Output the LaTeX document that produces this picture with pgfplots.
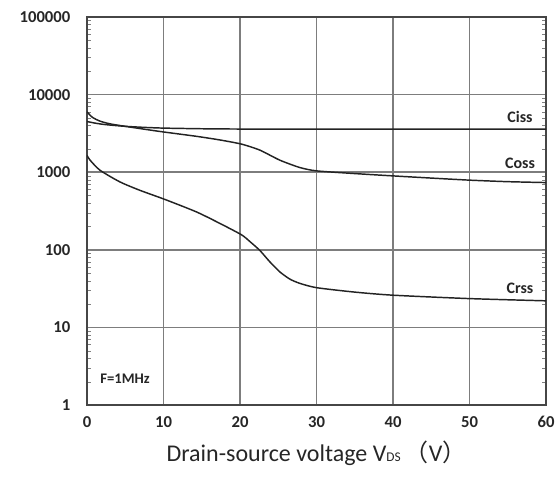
\documentclass[border=0pt]{standalone}
\usepackage{pgfplots}
\pgfplotsset{compat=1.18}
\usepackage{fontspec}
\setmainfont{Carlito}
\newfontfamily\cjk{Noto Sans CJK SC}
\definecolor{gridc}{RGB}{125,125,125}
\definecolor{framec}{RGB}{70,70,70}
\definecolor{curvec}{RGB}{35,35,35}
\begin{document}
\begin{tikzpicture}
\path[use as bounding box] (-65.25pt,-57pt) rectangle (352.5pt,303.75pt);
\begin{axis}[
  scale only axis,
  width=344.25pt, height=291pt,
  ymode=log,
  xmin=0, xmax=60, ymin=1, ymax=100000,
  xtick={0,10,20,30,40,50,60},
  ytick={1,10,100,1000,10000,100000},
  yticklabels={1,10,100,1000,10000,100000},
  minor ytick={},
  major tick length=0pt,
  grid=major,
  major grid style={color=gridc, line width=1.1pt},
  axis line style={color=framec, line width=1.6pt},
  every axis plot/.append style={line width=1.1pt, color=curvec},
  tick label style={font=\fontsize{12.5}{14}\selectfont\bfseries, color=black!85},
  /pgf/number format/assume math mode=true,
  xticklabel style={yshift=-5pt},
  yticklabel style={xshift=-9pt},
  xlabel={Drain-source voltage V{\fontsize{10}{11}\selectfont DS}\,{\cjk （}V{\cjk ）}},
  xlabel style={font=\fontsize{18}{21}\selectfont, yshift=-3pt, color=black!85},
  clip=true,
]
\addplot[smooth, tension=0.4] coordinates {
(0,4500) (1,4300) (2,4150) (3,4050) (5,3900) (7.5,3780) (10,3700) (15,3630) (20,3600) (30,3600) (40,3600) (50,3600) (60,3600)};
\addplot[smooth, tension=0.4] coordinates {
(0,6000) (0.7,5100) (1.7,4550) (3,4200) (5,3900) (7.5,3580) (10,3300) (14.3,2900) (17.4,2600) (20.2,2300) (22.6,1925) (25.2,1430) (27.8,1150) (30,1040) (35,960) (40,896) (45,840) (50,790) (55,755) (60,735)};
\addplot[smooth, tension=0.4] coordinates {
(0,1650) (0.4,1430) (1.7,1060) (4.3,750) (6.9,585) (10.2,445) (14.3,308) (17.4,218) (20.2,156) (21.4,125) (22.6,98) (23.9,70) (25.2,52) (26.5,42) (27.8,37) (30,32.5) (35,28.5) (40,26) (50,23.5) (60,22)};
\node[font=\fontsize{12}{13}\selectfont\bfseries, color=black!85] at (axis cs:56.6,5100) {Ciss};
\node[font=\fontsize{12}{13}\selectfont\bfseries, color=black!85] at (axis cs:56.6,1300) {Coss};
\node[font=\fontsize{12}{13}\selectfont\bfseries, color=black!85] at (axis cs:56.6,31.5) {Crss};
\node[font=\fontsize{11}{12}\selectfont\bfseries, color=black!85, fill=white, inner sep=3pt, anchor=west] at (axis cs:1.2,2.2) {F=1MHz};
\end{axis}
\end{tikzpicture}
\end{document}
